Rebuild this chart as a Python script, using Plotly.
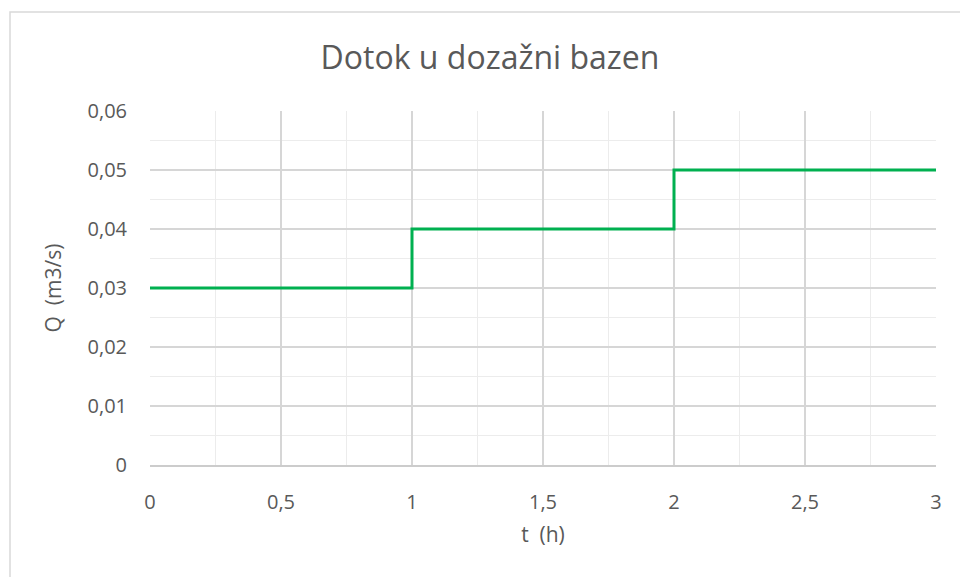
import plotly.graph_objects as go

t_hours = [0, 1, 2, 3]
q_flow = [0.03, 0.04, 0.05, 0.05]

x_tick_vals = [0, 0.5, 1, 1.5, 2, 2.5, 3]
x_tick_text = ["0", "0,5", "1", "1,5", "2", "2,5", "3"]
y_tick_vals = [0, 0.01, 0.02, 0.03, 0.04, 0.05, 0.06]
y_tick_text = ["0", "0,01", "0,02", "0,03", "0,04", "0,05", "0,06"]

FONT = "Open Sans"
TXT = "#595959"

fig = go.Figure()
fig.add_trace(go.Scatter(
    x=t_hours, y=q_flow, mode="lines", line_shape="hv",
    line=dict(color="#00B050", width=3), showlegend=False, hoverinfo="skip"))

L, R, T, B = 150, 24, 111, 112
W, H = 960, 577
pw = W - L - R
ph = H - T - B

def px_x(p):
    return (p - L) / pw

def px_y(p):
    return (H - B - p) / ph

fig.add_shape(type="rect", xref="paper", yref="paper",
              x0=px_x(10), x1=px_x(975), y0=px_y(12), y1=px_y(590),
              line=dict(color="#d9d9d9", width=1.5), layer="below")

fig.update_layout(
    width=W, height=H,
    margin=dict(l=L, r=R, t=T, b=B),
    paper_bgcolor="white", plot_bgcolor="white",
    separators=",.",
    font=dict(family=FONT, color=TXT, size=20),
    title=dict(text="Dotok u dozažni bazen", x=490 / W, xanchor="center",
               y=1 - 58 / H, yanchor="middle", xref="container",
               font=dict(size=32, color=TXT, family=FONT)),
)
fig.update_xaxes(
    range=[0, 3], tickvals=x_tick_vals, ticktext=x_tick_text,
    tickfont=dict(size=20, color=TXT, family=FONT),
    showgrid=True, gridcolor="#d6d6d6", gridwidth=1.5,
    minor=dict(dtick=0.25, tick0=0, showgrid=True, gridcolor="#ececec", gridwidth=1),
    showline=True, linecolor="#cccccc", linewidth=1.5,
    zeroline=False, ticks="", ticklabelstandoff=18,
    title=dict(text="t  (h)", font=dict(size=21, color=TXT), standoff=14),
)
fig.update_yaxes(
    range=[0, 0.06], tickvals=y_tick_vals, ticktext=y_tick_text,
    tickfont=dict(size=20, color=TXT, family=FONT),
    showgrid=True, gridcolor="#d6d6d6", gridwidth=1.5,
    minor=dict(dtick=0.005, tick0=0, showgrid=True, gridcolor="#ececec", gridwidth=1),
    showline=False, zeroline=False, ticks="", ticklabelstandoff=22,
    title=dict(text="Q  (m3/s)", font=dict(size=21, color=TXT), standoff=20),
)

fig.write_html("out.html", config={"displayModeBar": False})
with open("out.html", "r", encoding="utf-8") as f:
    html = f.read()
html = html.replace("<head>", "<head><style>html,body{margin:0;padding:0;overflow:hidden;}</style>", 1)
with open("out.html", "w", encoding="utf-8") as f:
    f.write(html)
